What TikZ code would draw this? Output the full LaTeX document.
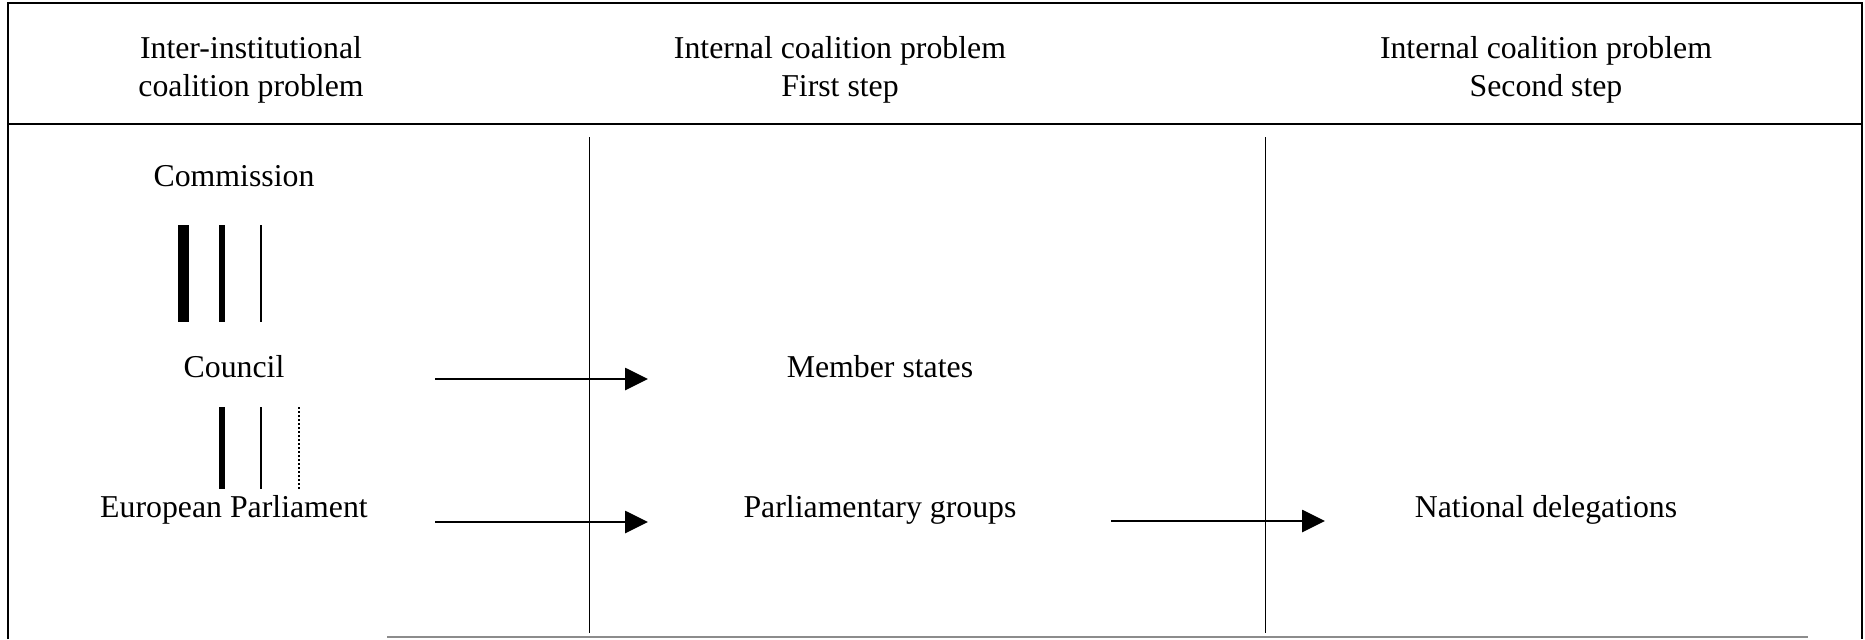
\documentclass[tikz,border=0pt]{standalone}
\usepackage{fontspec}
\setmainfont{Liberation Serif}
\usetikzlibrary{arrows.meta}
\tikzset{
    lbl/.style={inner sep=0pt, font=\fontsize{15.9}{19}\selectfont, align=center},
    flow/.style={-{Triangle[length=11.5pt,width=11pt]}, line width=1.4pt},
}
\begin{document}
\begin{tikzpicture}[x=0.5pt,y=-0.5pt]
    \useasboundingbox (0,0) rectangle (1865,639);
    % frame
    \draw [line width=1pt] (8,639) -- (8,3) -- (1862,3) -- (1862,639);
    \draw [line width=1pt, black!45] (387,637) -- (1808,637);
    \draw [line width=1.2pt] (8,124) -- (1862,124);
    \draw [line width=0.5pt] (589,137) -- (589,633);
    \draw [line width=0.5pt] (1265,137) -- (1265,633);
    % headers
    \node [lbl] (hinter) at (251,70) {Inter-institutional\\coalition problem};
    \node [lbl] (hfirst) at (840,70) {Internal coalition problem\\First step};
    \node [lbl] (hsecond) at (1546,70) {Internal coalition problem\\Second step};
    % institutions
    \node [lbl] (commission) at (234,176) {Commission};
    \node [lbl] (council) at (234,367) {Council};
    \node [lbl] (parliament) at (234,510) {European Parliament};
    \node [lbl] (states) at (880,367) {Member states};
    \node [lbl] (groups) at (880,510) {Parliamentary groups};
    \node [lbl] (delegations) at (1546,510) {National delegations};
    % bars
    \draw [line width=5.5pt] (183,225) -- (183,322);
    \draw [line width=3pt] (222,225) -- (222,322);
    \draw [line width=0.8pt] (261,225) -- (261,322);
    \draw [line width=3pt] (222,407) -- (222,489);
    \draw [line width=0.8pt] (261,407) -- (261,489);
    \draw [line width=1pt, dash pattern=on 1.2pt off 0.8pt] (299,407) -- (299,489);
    % arrows
    \coordinate (a1) at (435,379);
    \coordinate (b1) at (648,379);
    \coordinate (a2) at (435,522);
    \coordinate (b2) at (648,522);
    \coordinate (a3) at (1111,521);
    \coordinate (b3) at (1325,521);
    \draw [flow] (a1) -- (b1);
    \draw [flow] (a2) -- (b2);
    \draw [flow] (a3) -- (b3);
\end{tikzpicture}
\end{document}
